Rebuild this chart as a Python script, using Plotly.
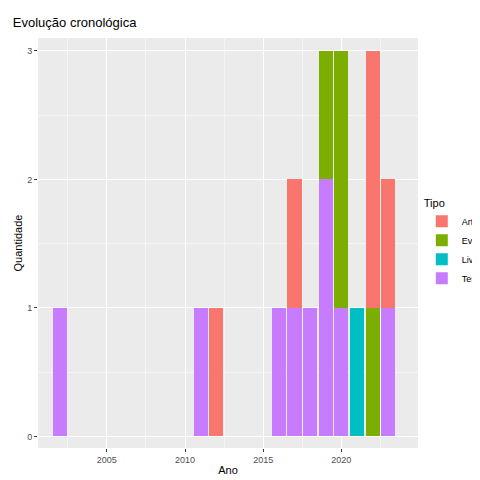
import plotly.graph_objects as go

# counts per year and type
tese_anos = [2002, 2011, 2016, 2017, 2018, 2019, 2020, 2023]
tese_qtd = [1, 1, 1, 1, 1, 2, 1, 1]
livro_anos = [2021]
livro_qtd = [1]
evento_anos = [2019, 2020, 2022]
evento_qtd = [1, 2, 1]
artigo_anos = [2012, 2017, 2022, 2023]
artigo_qtd = [1, 1, 2, 1]

series = [
    ('Tese', tese_anos, tese_qtd, '#C77CFF'),
    ('Livro', livro_anos, livro_qtd, '#00BFC4'),
    ('Evento', evento_anos, evento_qtd, '#7CAE00'),
    ('Artigo', artigo_anos, artigo_qtd, '#F8766D'),
]

fig = go.Figure()
for nome, x, y, cor in series:
    fig.add_trace(go.Bar(x=x, y=y, name=nome, marker_color=cor,
                         marker_line_width=0, width=0.9))

fig.update_layout(
    barmode='stack',
    width=480, height=480,
    margin=dict(l=30, r=70, t=30, b=40, autoexpand=False),
    paper_bgcolor='white', plot_bgcolor='#EBEBEB',
    font=dict(family='Liberation Sans, DejaVu Sans', color='#4D4D4D', size=9),
    title=dict(text='Evolução cronológica', x=0.01, xref='container', y=0.98,
               yref='container', xanchor='left', yanchor='top',
               font=dict(size=13, color='black')),
    legend=dict(title=dict(text='Tipo', font=dict(size=11, color='black')),
                traceorder='reversed', x=1.01, y=0.5, yanchor='middle',
                font=dict(size=9, color='black')),
)
fig.update_xaxes(range=[2000.6, 2024.9], tickvals=[2005, 2010, 2015, 2020],
                 gridcolor='white', gridwidth=1, showline=False, ticks='outside',
                 ticklen=3, tickcolor='#333333', zeroline=False,
                 title=dict(text='Ano', font=dict(size=11, color='black'), standoff=2),
                 minor=dict(dtick=2.5, tick0=2002.5, gridcolor='#F5F5F5', showgrid=True))
fig.update_yaxes(range=[-0.09, 3.1], tickvals=[0, 1, 2, 3], gridcolor='white',
                 zeroline=False, ticks='outside', ticklen=3, tickcolor='#333333',
                 title=dict(text='Quantidade', font=dict(size=11, color='black'), standoff=2),
                 minor=dict(dtick=0.5, gridcolor='#F5F5F5', showgrid=True))

fig.write_html("out.html")
